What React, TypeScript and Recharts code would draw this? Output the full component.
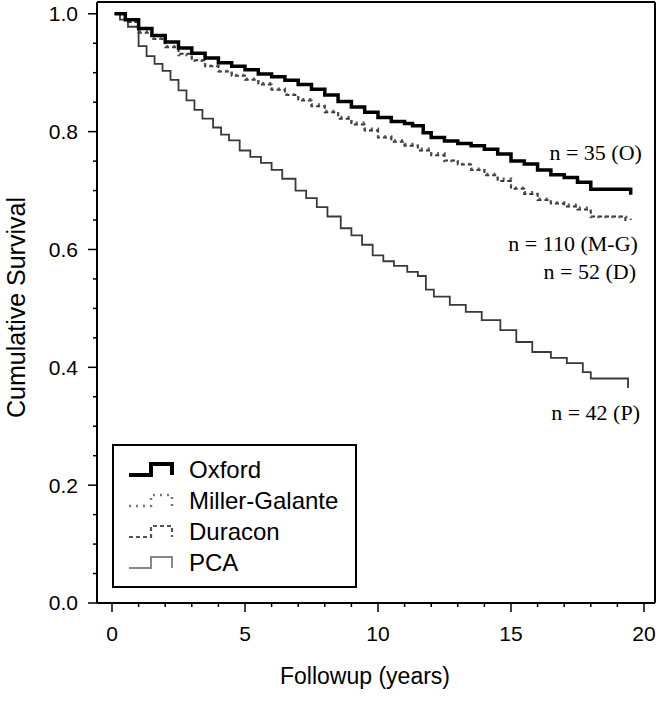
import React from "react";
import { LineChart, Line, XAxis, YAxis, Legend, ReferenceDot } from "recharts";

const W = 661;
const H = 701;
const SANS = "'Liberation Sans', Arial, Helvetica, sans-serif";
const SERIF = "'Liberation Serif', 'Times New Roman', serif";

// [years, cumulative survival]
const OXFORD: [number, number][] = [
  [0.1, 1.0], [0.5, 0.99], [1.0, 0.975], [1.5, 0.963], [2.0, 0.952], [2.5, 0.942],
  [3.0, 0.933], [3.5, 0.925], [4.0, 0.917], [4.5, 0.911], [5.0, 0.905], [5.5, 0.898],
  [6.0, 0.893], [6.5, 0.887], [7.0, 0.88], [7.5, 0.872], [8.0, 0.862], [8.5, 0.851],
  [9.0, 0.842], [9.5, 0.833], [10.0, 0.824], [10.5, 0.817], [11.0, 0.814], [11.3, 0.81],
  [11.7, 0.798], [12.0, 0.79], [12.5, 0.784], [13.0, 0.78], [13.5, 0.776], [14.0, 0.77],
  [14.5, 0.762], [15.0, 0.75], [15.5, 0.745], [16.0, 0.735], [16.5, 0.727], [17.0, 0.722],
  [17.5, 0.714], [18.0, 0.702], [19.3, 0.702], [19.5, 0.693],
];

const MILLER: [number, number][] = [
  [0.1, 1.0], [0.5, 0.988], [1.0, 0.97], [1.5, 0.958], [2.0, 0.945], [2.5, 0.93],
  [3.0, 0.92], [3.5, 0.912], [4.0, 0.903], [4.5, 0.896], [5.0, 0.89], [5.5, 0.882],
  [6.0, 0.873], [6.5, 0.863], [7.0, 0.855], [7.5, 0.846], [8.0, 0.835], [8.5, 0.825],
  [9.0, 0.815], [9.5, 0.805], [10.0, 0.792], [10.5, 0.785], [11.0, 0.779], [11.5, 0.771],
  [12.0, 0.763], [12.5, 0.75], [13.0, 0.745], [13.5, 0.737], [14.0, 0.728], [14.5, 0.72],
  [15.0, 0.705], [15.5, 0.697], [16.0, 0.686], [16.5, 0.68], [17.0, 0.676], [17.5, 0.671],
  [18.0, 0.655], [19.2, 0.655], [19.5, 0.65],
];

const DURACON: [number, number][] = [
  [0.1, 1.0], [0.5, 0.986], [1.0, 0.968], [1.5, 0.957], [2.0, 0.943], [2.5, 0.932],
  [3.0, 0.921], [3.5, 0.911], [4.0, 0.902], [4.5, 0.895], [5.0, 0.888], [5.5, 0.88],
  [6.0, 0.871], [6.5, 0.862], [7.0, 0.853], [7.5, 0.843], [8.0, 0.833], [8.5, 0.822],
  [9.0, 0.812], [9.5, 0.802], [10.0, 0.79], [10.5, 0.783], [11.0, 0.776], [11.5, 0.768],
  [12.0, 0.76], [12.5, 0.751], [13.0, 0.744], [13.5, 0.735], [14.0, 0.726], [14.5, 0.716],
  [15.0, 0.703], [15.5, 0.694], [16.0, 0.684], [16.5, 0.678], [17.0, 0.673], [17.5, 0.668],
  [18.0, 0.656], [19.0, 0.656], [19.3, 0.645],
];

const PCA: [number, number][] = [
  [0.1, 1.0], [0.3, 0.99], [0.6, 0.978], [1.0, 0.945], [1.3, 0.928], [1.6, 0.915],
  [1.9, 0.903], [2.2, 0.888], [2.5, 0.87], [2.8, 0.853], [3.1, 0.837], [3.4, 0.822],
  [3.8, 0.807], [4.1, 0.795], [4.4, 0.785], [4.8, 0.768], [5.2, 0.757], [5.6, 0.747],
  [6.0, 0.735], [6.4, 0.72], [6.9, 0.7], [7.3, 0.687], [7.7, 0.672], [8.1, 0.656],
  [8.6, 0.636], [9.0, 0.624], [9.4, 0.608], [9.8, 0.59], [10.2, 0.58], [10.6, 0.572],
  [11.1, 0.562], [11.5, 0.555], [11.8, 0.532], [12.1, 0.52], [12.7, 0.506], [13.3, 0.494],
  [13.9, 0.48], [14.6, 0.463], [15.2, 0.443], [15.8, 0.426], [16.5, 0.416], [17.1, 0.407],
  [17.7, 0.392], [18.0, 0.381], [19.2, 0.381], [19.4, 0.365],
];

const X_TICKS = [0, 5, 10, 15, 20];
const X_MINOR = [1, 2, 3, 4, 6, 7, 8, 9, 11, 12, 13, 14, 16, 17, 18, 19];
const Y_TICKS = [0, 0.2, 0.4, 0.6, 0.8, 1.0];
const Y_MINOR = [0.05, 0.1, 0.15, 0.25, 0.3, 0.35, 0.45, 0.5, 0.55, 0.65, 0.7, 0.75, 0.85, 0.9, 0.95];

const NOTES = [
  { text: "n = 35 (O)", x: 19.92, y: 0.752 },
  { text: "n = 110 (M-G)", x: 19.77, y: 0.597 },
  { text: "n = 52 (D)", x: 19.7, y: 0.55 },
  { text: "n = 42 (P)", x: 19.85, y: 0.311 },
];

const SERIES = [
  { name: "Oxford", data: OXFORD, stroke: "#000", width: 3.5, dash: undefined, legendStroke: "#000", legendWidth: 4 },
  { name: "Miller-Galante", data: MILLER, stroke: "#555", width: 2.4, dash: "2 5", legendStroke: "#777", legendWidth: 2.5 },
  { name: "Duracon", data: DURACON, stroke: "#333", width: 2, dash: "4 3", legendStroke: "#555", legendWidth: 2.2 },
  { name: "PCA", data: PCA, stroke: "#3a3a3a", width: 1.8, dash: undefined, legendStroke: "#888", legendWidth: 2 },
];

const XDOM: [number, number] = [-0.564, 20.414];
const YDOM: [number, number] = [0, 1.02];

const toRows = (pts: [number, number][]) => pts.map(([t, s]) => ({ t, s }));

const axisLine = { stroke: "#000", strokeWidth: 2 };
const NoLabel = () => <g />;

// tick line + label; minor ticks get a short line and no label
function XTick({ x, y, payload }: any) {
  const major = X_TICKS.includes(payload.value);
  const len = major ? 9 : 4;
  return (
    <g>
      <line x1={x} y1={y} x2={x} y2={y + len} stroke="#000" strokeWidth={1.5} />
      {major && (
        <text x={x} y={y + 23} dy="0.71em" textAnchor="middle" fontFamily={SANS} fontSize={21} fill="#000">
          {payload.value}
        </text>
      )}
    </g>
  );
}

function YTick({ x, y, payload }: any) {
  const major = Y_TICKS.some((v) => Math.abs(v - payload.value) < 1e-6);
  const len = major ? 9 : 4;
  return (
    <g>
      <line x1={x} y1={y} x2={x - len} y2={y} stroke="#000" strokeWidth={1.5} />
      {major && (
        <text x={x - 19} y={y} dy="0.355em" textAnchor="end" fontFamily={SANS} fontSize={21} fill="#000">
          {payload.value.toFixed(1)}
        </text>
      )}
    </g>
  );
}

function YTitle({ viewBox }: any) {
  const cx = 25;
  const cy = viewBox.y + viewBox.height / 2 + 5;
  return (
    <text x={cx} y={cy} transform={`rotate(-90, ${cx}, ${cy})`} textAnchor="middle" fontFamily={SANS} fontSize={25} fill="#000">
      Cumulative Survival
    </text>
  );
}

function XTitle({ viewBox }: any) {
  const cx = viewBox.x + viewBox.width / 2 - 11;
  return (
    <text x={cx} y={viewBox.y + 81} textAnchor="middle" fontFamily={SANS} fontSize={23} fill="#000">
      Followup (years)
    </text>
  );
}

function Note({ viewBox, text }: any) {
  return (
    <text x={viewBox.x} y={viewBox.y} textAnchor="end" fontFamily={SERIF} fontSize={22} fill="#000">
      {text}
    </text>
  );
}

function StepIcon({ s }: { s: (typeof SERIES)[number] }) {
  return (
    <svg width={46} height={18} style={{ display: "block" }}>
      <path d="M1,14 H23 V3 H44 V14" fill="none" stroke={s.legendStroke} strokeWidth={s.legendWidth} strokeDasharray={s.dash} />
    </svg>
  );
}

function LegendBox() {
  return (
    <div
      style={{
        width: 245,
        height: 144,
        boxSizing: "border-box",
        border: "2px solid #000",
        background: "#fff",
        paddingTop: 8,
        paddingLeft: 14,
        fontFamily: SANS,
        fontSize: 24,
        color: "#000",
      }}
    >
      {SERIES.map((s) => (
        <div key={s.name} style={{ display: "flex", alignItems: "center", height: 31 }}>
          <StepIcon s={s} />
          <span style={{ marginLeft: 15, lineHeight: "31px" }}>{s.name}</span>
        </div>
      ))}
    </div>
  );
}

export default function App() {
  return (
    <div style={{ position: "absolute", left: 0, top: 0, width: W, height: H, background: "#fff" }}>
      <LineChart width={W} height={H} margin={{ top: 1, right: 5, bottom: 0, left: 0 }}>
        <XAxis type="number" dataKey="t" domain={XDOM} ticks={[...X_TICKS, ...X_MINOR]} height={98}
          axisLine={axisLine} tickLine={false} tickSize={0} tickMargin={0} interval={0}
          tick={<XTick />} allowDataOverflow label={<XTitle />} />
        <XAxis xAxisId="top" orientation="top" type="number" domain={XDOM} height={1}
          axisLine={axisLine} tick={NoLabel} tickLine={false} />
        <YAxis type="number" dataKey="s" domain={YDOM} ticks={[...Y_TICKS, ...Y_MINOR]} width={97}
          axisLine={axisLine} tickLine={false} tickSize={0} tickMargin={0} interval={0}
          tick={<YTick />} allowDataOverflow label={<YTitle />} />
        <YAxis yAxisId="right" orientation="right" type="number" domain={YDOM} width={1}
          axisLine={axisLine} tick={NoLabel} tickLine={false} />
        {SERIES.slice().reverse().map((s) => (
          <Line key={s.name} name={s.name} data={toRows(s.data)} dataKey="s" type="stepAfter"
            stroke={s.stroke} strokeWidth={s.width} strokeDasharray={s.dash} dot={false}
            isAnimationActive={false} />
        ))}
        {NOTES.map((n) => (
          <ReferenceDot key={n.text} x={n.x} y={n.y} r={0} fill="none" stroke="none" ifOverflow="visible"
            label={<Note text={n.text} />} />
        ))}
        <Legend layout="vertical" verticalAlign="middle" align="center"
          wrapperStyle={{ left: 112, top: 444, width: 245 }} content={() => <LegendBox />} />
      </LineChart>
    </div>
  );
}
